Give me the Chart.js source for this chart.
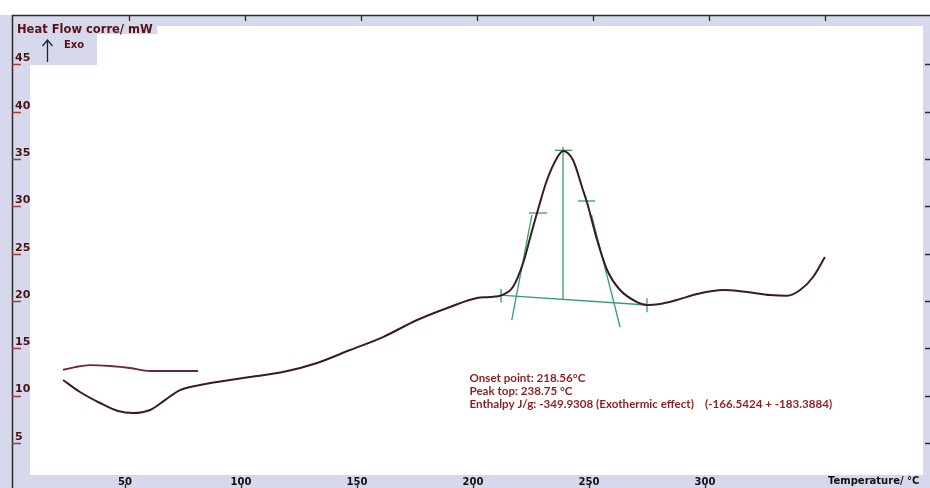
<!DOCTYPE html>
<html>
<head>
<meta charset="utf-8">
<script src="https://cdn.jsdelivr.net/npm/chart.js@4.4.0/dist/chart.umd.min.js"></script>
<style>
  html, body { margin: 0; padding: 0; background: #fff; }
  #wrap { width: 930px; height: 488px; }
</style>
</head>
<body>
<div id="wrap"><canvas id="dsc" width="930" height="488"></canvas></div>
<script>
// DSC heating run: temperature (°C) against corrected heat flow (mW)
const heatT = [23.3, 30.6, 39.2, 47.0, 53.4, 60.8, 67.2, 73.7, 82.3, 95.3, 103.9, 118.1,
  132.8, 147.0, 161.2, 175.9, 190.1, 201.7, 207.3, 212.5, 217.2, 221.6, 224.6, 227.6,
  231.9, 236.2, 238.8, 243.1, 247.4, 249.1, 253.5, 257.8, 263.4, 270.7, 275.0, 280.6,
  287.9, 296.6, 307.8, 318.1, 328.0, 335.3, 341.0, 346.6, 351.7];
const heatFlow = [11.65, 10.38, 9.22, 8.37, 8.16, 8.48, 9.53, 10.59, 11.12, 11.65, 11.97, 12.49,
  13.45, 14.82, 16.19, 17.99, 19.37, 20.32, 20.42, 20.63, 21.48, 24.02, 26.66, 29.30,
  32.79, 35.12, 35.86, 34.90, 31.73, 30.47, 26.45, 23.28, 21.16, 19.89, 19.58, 19.68,
  20.11, 20.74, 21.16, 20.95, 20.63, 20.55, 21.16, 22.54, 24.65];

// short isothermal start segment
const startT = [23.3, 28.5, 34.9, 43.5, 52.2, 60.8, 71.6, 81.5];
const startFlow = [12.71, 13.02, 13.23, 13.13, 12.92, 12.60, 12.60, 12.60];

// peak construction: baseline, peak drop line, inflection tangents
const baseT = [211.6, 275.0];
const baseFlow = [20.63, 19.58];
const dropT = [238.8, 238.8];
const dropFlow = [20.18, 36.3];
const leftTanT = [216.7, 225.4];
const leftTanFlow = [17.99, 29.1];
const rightTanT = [263.4, 251.1];
const rightTanFlow = [17.25, 29.1];

// construction markers
const onsetMarkT = [212.1, 212.1];
const onsetMarkFlow = [21.3, 19.85];
const endMarkT = [275.0, 275.0];
const endMarkFlow = [20.3, 18.8];
const leftInflT = [224.1, 231.9];
const leftInflFlow = [29.3, 29.3];
const rightInflT = [245.3, 252.6];
const rightInflFlow = [30.57, 30.57];
const peakMarkT = [235.3, 242.7];
const peakMarkFlow = [35.93, 35.93];

// axis ticks
const xTicks = [50, 100, 150, 200, 250, 300];
const yTicks = [5, 10, 15, 20, 25, 30, 35, 40, 45];

// result lines
const resultLines = [
  'Onset point: 218.56°C',
  'Peak top: 238.75 °C',
  'Enthalpy J/g: -349.9308 (Exothermic effect)    (-166.5424 + -183.3884)'
];

const LAV = '#d5d9eb';
const GREEN = '#33a066';

const toXY = (xs, ys) => xs.map((x, i) => ({ x, y: ys[i] }));
const series = (xs, ys, color, width, extra) => Object.assign({
  data: toXY(xs, ys), borderColor: color, borderWidth: width,
  pointRadius: 0, fill: false, tension: 0
}, extra || {});

const framePlugin = {
  id: 'frame',
  beforeDraw(chart) {
    const { ctx, chartArea: a } = chart;
    ctx.save();
    ctx.fillStyle = '#fff';
    ctx.fillRect(0, 0, chart.width, chart.height);
    ctx.fillStyle = LAV;
    ctx.fillRect(0, a.top, chart.width, chart.height - a.top);
    // white plotting field
    ctx.fillStyle = '#fff';
    ctx.fillRect(a.left + 18, a.top + 11, (a.right - 4) - (a.left + 18), a.bottom - (a.top + 11));
    // label boxes in the upper left corner
    ctx.fillStyle = LAV;
    ctx.fillRect(a.left + 2, a.top + 1, 143, 18);
    ctx.fillRect(a.left + 2, a.top + 18, 83, 32);
    ctx.restore();
  },
  afterDraw(chart) {
    const { ctx, chartArea: a, scales: { x, y } } = chart;
    ctx.save();
    // left axis and top border
    ctx.strokeStyle = '#2b2b2b';
    ctx.lineWidth = 1.5;
    ctx.beginPath();
    ctx.moveTo(a.left + 0.5, a.top);
    ctx.lineTo(a.left + 0.5, chart.height);
    ctx.moveTo(a.left, a.top + 0.5);
    ctx.lineTo(chart.width, a.top + 0.5);
    ctx.stroke();
    // tick marks along top and bottom
    ctx.lineWidth = 1.3;
    ctx.beginPath();
    xTicks.concat([350]).forEach(v => {
      const px = Math.round(x.getPixelForValue(v)) + 0.5;
      ctx.moveTo(px + 4, a.top);
      ctx.lineTo(px + 4, a.top + 6);
      if (v < 350) {
        ctx.moveTo(px, chart.height - 4);
        ctx.lineTo(px, chart.height);
      }
    });
    // right-hand marks
    yTicks.forEach(v => {
      const py = Math.round(y.getPixelForValue(v)) + 0.5;
      ctx.moveTo(chart.width - 5, py);
      ctx.lineTo(chart.width, py);
    });
    ctx.stroke();
    // y tick marks
    ctx.strokeStyle = '#a83a3a';
    ctx.lineWidth = 1.5;
    ctx.beginPath();
    yTicks.forEach(v => {
      const py = Math.round(y.getPixelForValue(v)) + 0.5;
      ctx.moveTo(a.left, py);
      ctx.lineTo(a.left + 9, py);
    });
    ctx.stroke();

    // axis titles
    ctx.fillStyle = '#5a1016';
    ctx.font = 'bold 11.5px "DejaVu Sans"';
    ctx.textBaseline = 'middle';
    ctx.textAlign = 'left';
    ctx.fillText('Heat Flow corre/ mW', a.left + 5, a.top + 15);
    ctx.font = 'bold 10px "DejaVu Sans"';
    ctx.fillText('Exo', a.left + 52, a.top + 30);
    ctx.fillStyle = '#111';
    ctx.fillText('Temperature/ °C', 828, chart.height - 7);
    // exo arrow
    ctx.strokeStyle = '#222';
    ctx.lineWidth = 1.3;
    ctx.beginPath();
    ctx.moveTo(a.left + 35.5, a.top + 47);
    ctx.lineTo(a.left + 35.5, a.top + 25);
    ctx.moveTo(a.left + 30.5, a.top + 31);
    ctx.lineTo(a.left + 35.5, a.top + 25);
    ctx.lineTo(a.left + 40.5, a.top + 31);
    ctx.stroke();

    // evaluation results
    ctx.fillStyle = '#8f1f1f';
    ctx.font = 'bold 11.6px Lato';
    const tx = x.getPixelForValue(198.5);
    [11.86, 10.49, 9.11].forEach((v, i) => {
      ctx.fillText(resultLines[i], tx, y.getPixelForValue(v));
    });
    ctx.restore();
  }
};

new Chart(document.getElementById('dsc'), {
  type: 'line',
  data: {
    datasets: [
      series(heatT, heatFlow, '#3a1b20', 2, { cubicInterpolationMode: 'monotone' }),
      series(startT, startFlow, '#6a2830', 1.8, { cubicInterpolationMode: 'monotone' }),
      series(baseT, baseFlow, GREEN, 1.3),
      series(dropT, dropFlow, GREEN, 1.3),
      series(leftTanT, leftTanFlow, GREEN, 1.3),
      series(rightTanT, rightTanFlow, GREEN, 1.3),
      series(onsetMarkT, onsetMarkFlow, GREEN, 1.3),
      series(endMarkT, endMarkFlow, GREEN, 1.3),
      series(leftInflT, leftInflFlow, GREEN, 1.3),
      series(rightInflT, rightInflFlow, GREEN, 1.3),
      series(peakMarkT, peakMarkFlow, GREEN, 1.3)
    ]
  },
  options: {
    responsive: false,
    animation: false,
    devicePixelRatio: 1,
    layout: { padding: { left: 12, top: 15, right: 3, bottom: 0 } },
    plugins: { legend: { display: false }, tooltip: { enabled: false } },
    scales: {
      x: {
        type: 'linear', position: 'bottom', min: 1.29, max: 395.7,
        afterBuildTicks: s => { s.ticks = xTicks.map(v => ({ value: v })); },
        afterFit: s => { s.height = 13; },
        grid: { display: false, drawTicks: false },
        border: { display: false },
        ticks: {
          padding: 1, maxRotation: 0, autoSkip: false, color: '#111',
          font: { family: 'DejaVu Sans', size: 10, weight: 'bold' }
        }
      },
      y: {
        type: 'linear', position: 'left', min: 1.61, max: 50.23,
        afterBuildTicks: s => { s.ticks = yTicks.map(v => ({ value: v })); },
        afterFit: s => { s.width = 0; },
        grid: { display: false, drawTicks: false },
        border: { display: false },
        ticks: {
          mirror: true, padding: 3, labelOffset: -6, autoSkip: false, color: '#4a0f14',
          font: { family: 'DejaVu Sans', size: 11, weight: 'bold' }
        }
      }
    }
  },
  plugins: [framePlugin]
});
</script>
</body>
</html>
